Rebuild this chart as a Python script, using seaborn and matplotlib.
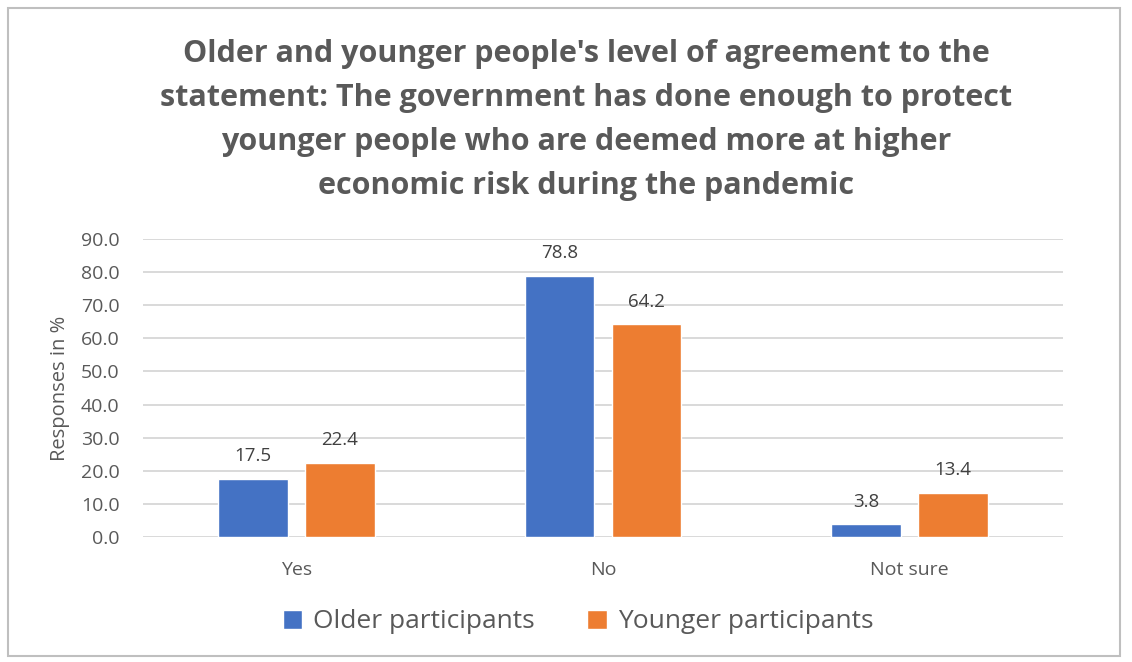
import pandas as pd
import numpy as np
import matplotlib.pyplot as plt
import seaborn as sns
from matplotlib.patches import Rectangle

# data
answers = ['Yes', 'No', 'Not sure']
groups = ['Older participants', 'Younger participants']
older = [17.5, 78.8, 3.8]
younger = [22.4, 64.2, 13.4]
yticks = [0, 10, 20, 30, 40, 50, 60, 70, 80, 90]
title = ("Older and younger people's level of agreement to the\n"
         "statement: The government has done enough to protect\n"
         "younger people who are deemed more at higher\n"
         "economic risk during the pandemic")

df = pd.DataFrame({
    'answer': answers * 2,
    'pct': older + younger,
    'group': [groups[0]] * 3 + [groups[1]] * 3,
})

sns.set_style('white')
plt.rcParams['font.family'] = ['Open Sans', 'DejaVu Sans']
txt = '#595959'

fig = plt.figure(figsize=(11.32, 6.62), dpi=100)
ax = fig.add_axes([143 / 1132, 1 - 537 / 662, 920 / 1132, 298 / 662])

sns.barplot(data=df, x='answer', y='pct', hue='group', order=answers,
            hue_order=groups, palette=['#4472C4', '#ED7D31'], saturation=1,
            width=0.567, gap=0.2, ax=ax)

for c in ax.containers:
    ax.bar_label(c, fmt='%.1f', padding=10, fontsize=13.5, color='#404040')

ax.set_ylim(0, 90)
ax.set_yticks(yticks)
ax.set_yticklabels([f'{v:.1f}' for v in yticks])
ax.yaxis.grid(True, color='#D9D9D9', lw=1.4)
ax.set_axisbelow(True)
for s in ax.spines.values():
    s.set_visible(False)
ax.tick_params(axis='y', length=0, pad=17, labelsize=14, labelcolor=txt)
ax.tick_params(axis='x', length=0, pad=17, labelsize=14, labelcolor=txt)
ax.set_xlabel('')
ax.set_ylabel('Responses in %', fontsize=14.5, color=txt, labelpad=8)

handles, labels = ax.get_legend_handles_labels()
ax.get_legend().remove()
fig.legend(handles, labels, loc='center', bbox_to_anchor=(578 / 1132, 1 - 622 / 662),
           ncol=2, frameon=False, fontsize=19, labelcolor=txt,
           handlelength=0.75, handleheight=0.75, handletextpad=0.4, columnspacing=2.0)

fig.text(586 / 1132, 1 - 120 / 662, title, ha='center', va='center',
         fontsize=22, fontweight='bold', color=txt, linespacing=1.6)

fig.patches.append(Rectangle((8 / 1132, 6 / 662), 1112 / 1132, 648 / 662,
                             transform=fig.transFigure, fill=False,
                             edgecolor='#BFBFBF', lw=1.5))

plt.savefig('out.png', dpi=100)
